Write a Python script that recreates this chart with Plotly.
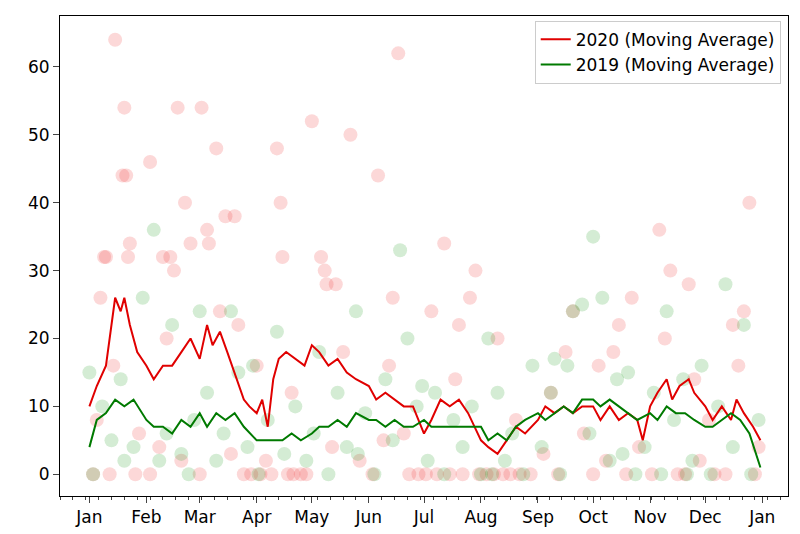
import plotly.graph_objects as go

# moving averages
ma20_dates = ["2020-01-01","2020-01-05","2020-01-10","2020-01-12","2020-01-15","2020-01-18","2020-01-20","2020-01-23","2020-01-27",
    "2020-02-01","2020-02-05","2020-02-10","2020-02-15","2020-02-20","2020-02-25","2020-03-01","2020-03-05","2020-03-08","2020-03-12",
    "2020-03-16","2020-03-20","2020-03-25","2020-03-28","2020-04-01","2020-04-04","2020-04-07","2020-04-10","2020-04-13","2020-04-17",
    "2020-04-22","2020-04-27","2020-05-01","2020-05-05","2020-05-10","2020-05-15","2020-05-20","2020-05-25","2020-06-01","2020-06-05",
    "2020-06-10","2020-06-15","2020-06-20","2020-06-25","2020-07-01","2020-07-05","2020-07-10","2020-07-15","2020-07-20","2020-07-25",
    "2020-08-01","2020-08-05","2020-08-10","2020-08-15","2020-08-20","2020-08-25","2020-09-01","2020-09-05","2020-09-10","2020-09-15",
    "2020-09-20","2020-09-25","2020-10-01","2020-10-05","2020-10-10","2020-10-15","2020-10-20","2020-10-25","2020-10-28","2020-11-01",
    "2020-11-05","2020-11-10","2020-11-13","2020-11-17","2020-11-22","2020-11-25","2020-12-01","2020-12-05","2020-12-10","2020-12-15",
    "2020-12-18","2020-12-22","2020-12-27","2020-12-31"]
ma20_vals = [10,13,16,20,26,24,26,22,18,16,14,16,16,18,20,17,22,19,21,18,15,11,10,9,11,7,14,17,18,17,16,19,18,16,17,15,14,13,11,
    12,11,10,10,6,8,11,10,11,9,5,4,3,5,7,6,8,10,9,10,9,10,10,8,10,8,9,8,5,10,12,14,11,13,14,12,10,8,10,8,11,9,7,5]

ma19_dates = ["2020-01-01","2020-01-05","2020-01-10","2020-01-15","2020-01-20","2020-01-25","2020-02-01","2020-02-05","2020-02-10",
    "2020-02-15","2020-02-20","2020-02-25","2020-03-01","2020-03-05","2020-03-10","2020-03-15","2020-03-20","2020-03-25","2020-04-01",
    "2020-04-05","2020-04-10","2020-04-15","2020-04-20","2020-04-25","2020-05-01","2020-05-05","2020-05-10","2020-05-15","2020-05-20",
    "2020-05-25","2020-06-01","2020-06-05","2020-06-10","2020-06-15","2020-06-20","2020-06-25","2020-07-01","2020-07-05","2020-07-10",
    "2020-07-15","2020-07-20","2020-07-25","2020-08-01","2020-08-05","2020-08-10","2020-08-15","2020-08-20","2020-08-25","2020-09-01",
    "2020-09-05","2020-09-10","2020-09-15","2020-09-20","2020-09-25","2020-10-01","2020-10-05","2020-10-10","2020-10-15","2020-10-20",
    "2020-10-25","2020-11-01","2020-11-05","2020-11-10","2020-11-15","2020-11-20","2020-11-25","2020-12-01","2020-12-05","2020-12-10",
    "2020-12-15","2020-12-20","2020-12-25","2020-12-31"]
ma19_vals = [4,8,9,11,10,11,8,7,7,6,8,7,9,7,9,8,9,7,5,5,5,5,6,5,6,7,7,8,7,9,8,8,7,8,7,7,8,7,7,7,7,7,7,5,6,5,7,8,9,8,9,10,9,11,
    11,10,11,10,9,8,9,8,10,9,9,8,7,7,8,9,8,6,1]

# daily points (selection)
pts20_dates = ["2020-01-15","2020-01-20","2020-01-19","2020-01-21","2020-01-10","2020-01-09","2020-01-07","2020-01-23","2020-01-22",
    "2020-02-03","2020-02-10","2020-02-14","2020-02-16","2020-02-18","2020-02-22","2020-02-25","2020-03-02","2020-03-05","2020-03-06",
    "2020-03-10","2020-03-15","2020-03-20","2020-04-01","2020-04-12","2020-04-14","2020-04-15","2020-05-01","2020-05-06","2020-05-08",
    "2020-05-09","2020-05-14","2020-05-22","2020-06-06","2020-06-14","2020-06-17","2020-07-12","2020-07-05","2020-07-29","2020-07-26",
    "2020-07-20","2020-08-10","2020-09-20","2020-10-15","2020-10-22","2020-11-06","2020-11-12","2020-11-22","2020-12-16","2020-12-22",
    "2020-12-25","2020-01-03","2020-01-05","2020-01-12","2020-01-28","2020-02-03","2020-02-08","2020-02-20","2020-03-01","2020-03-18",
    "2020-03-25","2020-03-29","2020-04-03","2020-04-06","2020-04-09","2020-04-18","2020-04-21","2020-04-25","2020-04-28","2020-05-12",
    "2020-05-27","2020-06-03","2020-06-09","2020-06-23","2020-06-28","2020-07-02","2020-07-08","2020-07-15","2020-07-22","2020-07-31",
    "2020-08-04","2020-08-08","2020-08-13","2020-08-17","2020-08-22","2020-08-28","2020-09-04","2020-09-12","2020-09-26","2020-10-01",
    "2020-10-08","2020-10-19","2020-10-26","2020-11-02","2020-11-16","2020-11-20","2020-11-28","2020-12-06","2020-12-12","2020-12-28",
    "2020-01-14","2020-02-12","2020-03-12","2020-04-20","2020-05-18","2020-06-12","2020-07-18","2020-08-20","2020-09-08","2020-09-16",
    "2020-10-04","2020-10-12","2020-11-09","2020-11-25","2020-12-03","2020-12-19","2020-12-30","2020-03-22","2020-06-20","2020-01-26"]
pts20_vals = [64,54,44,44,32,32,26,34,32,46,32,32,30,54,40,34,54,36,34,48,38,38,16,48,40,32,52,32,30,28,28,50,44,26,62,34,24,30,
    26,22,20,24,22,26,36,30,28,22,24,40,0,8,0,6,0,4,2,0,3,0,0,0,2,0,0,0,0,0,4,2,0,5,0,0,0,0,0,0,0,0,0,0,0,0,0,3,0,6,0,2,0,4,
    0,0,0,2,0,0,0,16,20,24,12,18,16,14,8,12,18,16,18,20,14,8,16,4,22,6,0,26]

pts19_dates = ["2020-02-05","2020-01-30","2020-02-15","2020-03-01","2020-03-18","2020-04-12","2020-05-05","2020-05-25","2020-06-18",
    "2020-06-22","2020-08-05","2020-09-20","2020-09-25","2020-10-01","2020-10-06","2020-10-20","2020-11-10","2020-12-12","2020-12-22",
    "2020-01-01","2020-01-03","2020-01-08","2020-01-13","2020-01-18","2020-01-25","2020-02-08","2020-02-12","2020-02-20","2020-02-27",
    "2020-03-05","2020-03-10","2020-03-14","2020-03-22","2020-03-27","2020-04-02","2020-04-07","2020-04-16","2020-04-22","2020-04-28",
    "2020-05-02","2020-05-10","2020-05-15","2020-05-20","2020-05-30","2020-06-04","2020-06-10","2020-06-14","2020-06-27","2020-07-03",
    "2020-07-07","2020-07-12","2020-07-17","2020-07-22","2020-07-27","2020-08-01","2020-08-10","2020-08-14","2020-08-18","2020-08-24",
    "2020-08-29","2020-09-03","2020-09-08","2020-09-13","2020-09-17","2020-09-29","2020-10-10","2020-10-14","2020-10-24","2020-10-29",
    "2020-11-03","2020-11-07","2020-11-14","2020-11-19","2020-11-24","2020-11-29","2020-12-04","2020-12-08","2020-12-16","2020-12-26",
    "2020-12-30","2020-01-20","2020-02-24","2020-03-30","2020-05-26","2020-06-30","2020-08-07","2020-09-10","2020-10-17","2020-11-21"]
pts19_vals = [36,26,22,24,24,21,18,24,33,20,20,24,25,35,26,15,24,28,22,15,0,10,5,14,4,2,6,3,8,12,2,6,15,4,0,8,3,10,2,6,0,12,4,
    9,0,14,5,10,2,12,0,8,4,10,0,12,2,6,0,16,4,12,0,16,6,2,14,0,4,12,0,8,14,2,16,0,10,4,0,8,2,0,16,3,13,0,17,3,0,10]

RED = "#e00000"
GREEN = "#007a00"

fig = go.Figure()
fig.add_trace(go.Scatter(x=pts20_dates, y=pts20_vals, mode="markers", showlegend=False,
                         marker=dict(size=14, color="rgba(240,60,60,0.2)")))
fig.add_trace(go.Scatter(x=pts19_dates, y=pts19_vals, mode="markers", showlegend=False,
                         marker=dict(size=14, color="rgba(40,160,40,0.2)")))
fig.add_trace(go.Scatter(x=ma20_dates, y=ma20_vals, mode="lines", name="2020 (Moving Average)",
                         line=dict(color=RED, width=2)))
fig.add_trace(go.Scatter(x=ma19_dates, y=ma19_vals, mode="lines", name="2019 (Moving Average)",
                         line=dict(color=GREEN, width=2)))

month_ticks = ["2020-%02d-01" % m for m in range(1, 13)] + ["2021-01-01"]
month_labels = ["Jan","Feb","Mar","Apr","May","Jun","Jul","Aug","Sep","Oct","Nov","Dec","Jan"]

fig.update_layout(
    width=800, height=534,
    paper_bgcolor="white", plot_bgcolor="white",
    font=dict(family="DejaVu Sans", size=17, color="black"),
    margin=dict(l=52, r=20, t=8, b=46),
    legend=dict(x=0.99, y=0.99, xanchor="right", yanchor="top", bordercolor="#cccccc", borderwidth=1,
                bgcolor="white", font=dict(size=17)),
)
fig.update_xaxes(type="date", range=["2019-12-16", "2021-01-15"], tickvals=month_ticks, ticktext=month_labels,
                 showgrid=False, showline=True, linecolor="black", mirror=True, ticks="outside", ticklen=6,
                 minor=dict(dtick=7 * 86400000, tick0="2019-12-30", ticks="outside", ticklen=3, showgrid=False))
fig.update_yaxes(range=[-3.2, 67.5], tickvals=[0, 10, 20, 30, 40, 50, 60], showgrid=False, zeroline=False,
                 showline=True, linecolor="black", mirror=True, ticks="outside", ticklen=6)

fig.write_html("out.html")
